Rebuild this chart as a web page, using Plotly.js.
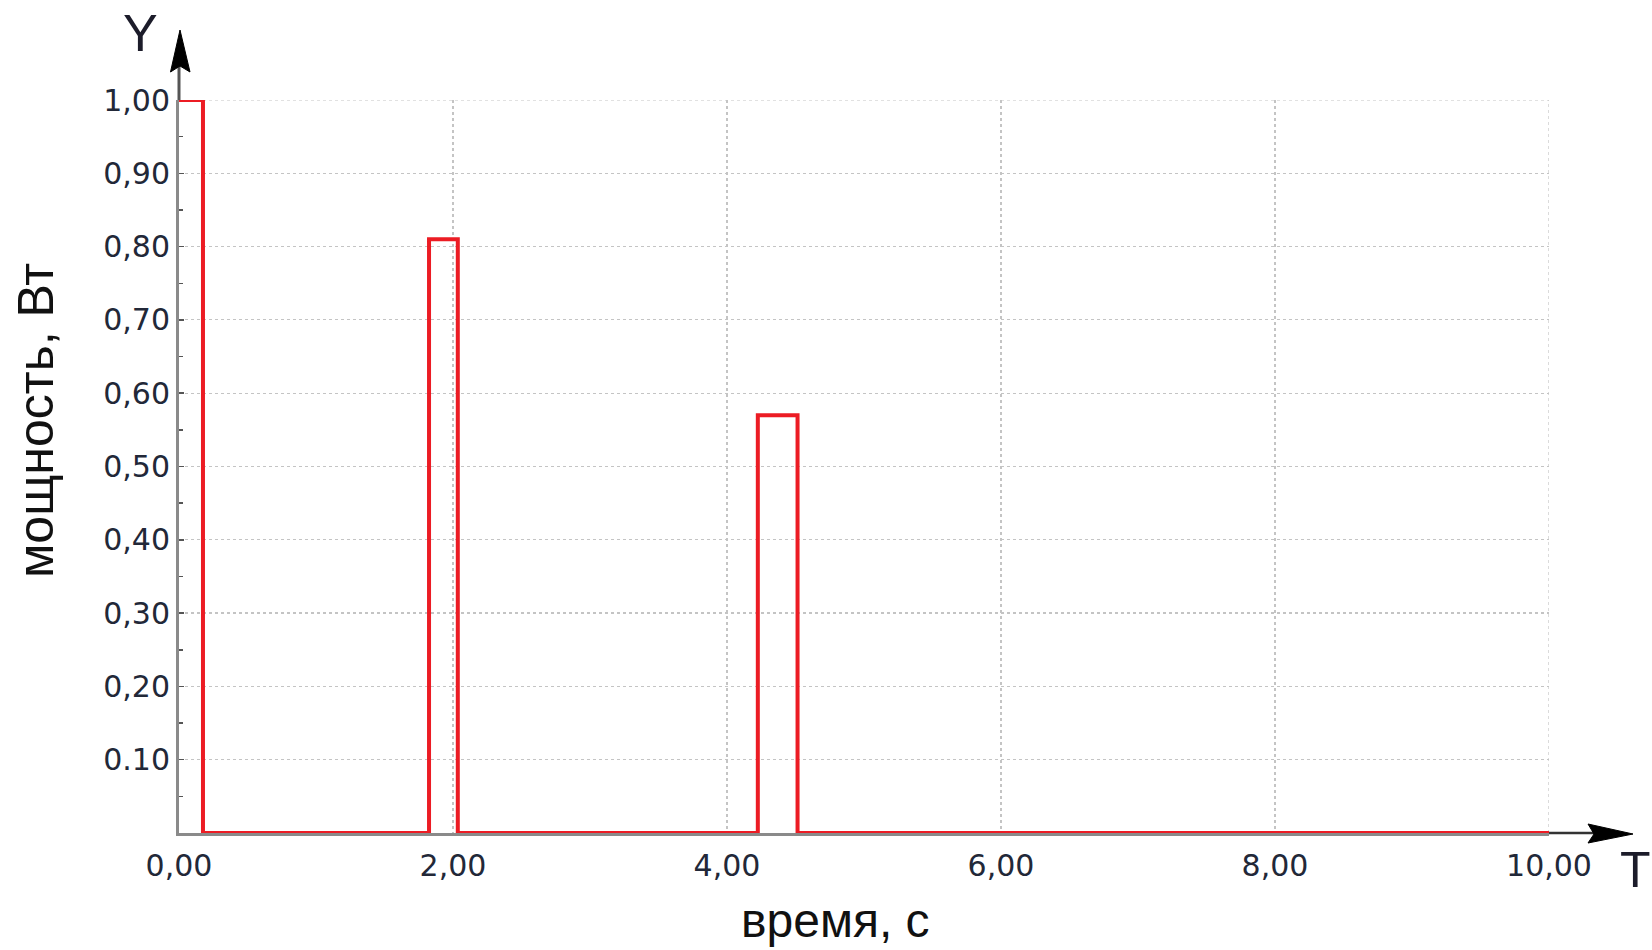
<!DOCTYPE html>
<html>
<head>
<meta charset="utf-8">
<script src="https://cdn.plot.ly/plotly-3.0.1.min.js"></script>
<style>html,body{margin:0;padding:0;background:#fff;}#chart{width:1652px;height:950px;}</style>
</head>
<body>
<div id="chart"></div>
<script>
// ---- data ----
const pulseStart  = [0.00, 1.825, 4.225];
const pulseEnd    = [0.175, 2.035, 4.515];
const pulseHeight = [1.00, 0.81, 0.57];
const tEnd = 10.0;

const xTickVals = [0, 2, 4, 6, 8, 10];
const xTickText = ["0,00", "2,00", "4,00", "6,00", "8,00", "10,00"];
const yTickVals = [0.1, 0.2, 0.3, 0.4, 0.5, 0.6, 0.7, 0.8, 0.9, 1.0];
const yTickText = ["0.10", "0,20", "0,30", "0,40", "0,50", "0,60", "0,70", "0,80", "0,90", "1,00"];

// ---- build the step signal ----
const xs = [], ys = [];
pulseStart.forEach((s, i) => {
  if (s > 0) { xs.push(s); ys.push(0); }
  xs.push(s); ys.push(pulseHeight[i]);
  xs.push(pulseEnd[i]); ys.push(pulseHeight[i]);
  xs.push(pulseEnd[i]); ys.push(0);
});
xs.push(tEnd); ys.push(0);

// plot area in pixels
const L = 179, R = 1549, T = 100, B = 833;
const px = v => (v - L) / (R - L);
const py = v => (B - v) / (B - T);

const trace = {
  x: xs, y: ys, type: 'scatter', mode: 'lines',
  line: {color: '#ec1c24', width: 4},
  cliponaxis: false, hoverinfo: 'skip', showlegend: false
};

const tickFont = {family: 'DejaVu Sans, Verdana, sans-serif', size: 30, color: '#222838'};
const gridCol = '#c4c4c4';

const layout = {
  width: 1652, height: 950,
  margin: {l: L, r: 1652 - R, t: T, b: 950 - B, pad: 0},
  paper_bgcolor: '#ffffff', plot_bgcolor: '#ffffff',
  showlegend: false,
  xaxis: {
    range: [0, 10], autorange: false, fixedrange: true,
    tickvals: xTickVals, ticktext: xTickText, tickfont: tickFont,
    ticks: '', ticklabelstandoff: 4,
    showgrid: true, gridcolor: gridCol, griddash: 'dot', gridwidth: 1.2,
    zeroline: false, showline: true, linecolor: '#8a8a8a', linewidth: 3,
    layer: 'below traces'
  },
  yaxis: {
    range: [0, 1], autorange: false, fixedrange: true,
    tickvals: yTickVals, ticktext: yTickText, tickfont: tickFont,
    ticks: 'inside', ticklen: 5, tickwidth: 1.5, tickcolor: '#555',
    minor: {dtick: 0.05, ticks: 'inside', ticklen: 4, tickwidth: 1.5, tickcolor: '#555', showgrid: false},
    ticklabelstandoff: 0,
    showgrid: true, gridcolor: gridCol, griddash: 'dot', gridwidth: 1.2,
    zeroline: false, showline: true, linecolor: '#8a8a8a', linewidth: 3,
    layer: 'below traces'
  },
  shapes: [
    // gridlines at the range edges (top and right)
    {type: 'line', xref: 'x', yref: 'y', x0: 0, x1: 10, y0: 1, y1: 1, layer: 'below',
     line: {color: gridCol, width: 1.2, dash: 'dot'}},
    {type: 'line', xref: 'x', yref: 'y', x0: 10, x1: 10, y0: 0, y1: 1, layer: 'below',
     line: {color: gridCol, width: 1.2, dash: 'dot'}},
    // y axis extension + arrow
    {type: 'line', xref: 'paper', yref: 'paper', x0: px(179), x1: px(179), y0: 1, y1: py(66),
     line: {color: '#555', width: 3}},
    {type: 'path', xref: 'paper', yref: 'paper',
     path: `M ${px(180)},${py(30)} L ${px(170.5)},${py(72)} L ${px(180)},${py(66)} L ${px(190)},${py(72)} Z`,
     fillcolor: '#000', line: {color: '#000', width: 1}},
    // x axis extension + arrow
    {type: 'line', xref: 'paper', yref: 'paper', x0: 1, x1: px(1595), y0: 0, y1: 0,
     line: {color: '#333', width: 2.5}},
    {type: 'path', xref: 'paper', yref: 'paper',
     path: `M ${px(1633)},${py(834)} L ${px(1588)},${py(824)} L ${px(1594)},${py(834)} L ${px(1588)},${py(843)} Z`,
     fillcolor: '#000', line: {color: '#000', width: 1}}
  ],
  annotations: [
    {text: 'мощность, Вт', xref: 'paper', yref: 'paper', x: px(36), y: py(421),
     showarrow: false, textangle: -90, xanchor: 'center', yanchor: 'middle',
     font: {family: 'Liberation Sans, Arial, sans-serif', size: 50, color: '#111'}},
    {text: 'время, с', xref: 'paper', yref: 'paper', x: px(835), y: py(920),
     showarrow: false, xanchor: 'center', yanchor: 'middle',
     font: {family: 'Liberation Sans, Arial, sans-serif', size: 48, color: '#111'}},
    {text: 'Y', xref: 'paper', yref: 'paper', x: px(140), y: py(33),
     showarrow: false, xanchor: 'center', yanchor: 'middle',
     font: {family: 'Liberation Sans, Arial, sans-serif', size: 52, color: '#1c1c2a'}},
    {text: 'T', xref: 'paper', yref: 'paper', x: px(1635), y: py(870),
     showarrow: false, xanchor: 'center', yanchor: 'middle',
     font: {family: 'Liberation Sans, Arial, sans-serif', size: 50, color: '#1c1c2a'}}
  ]
};

Plotly.newPlot('chart', [trace], layout, {staticPlot: true, displayModeBar: false});
</script>
</body>
</html>
